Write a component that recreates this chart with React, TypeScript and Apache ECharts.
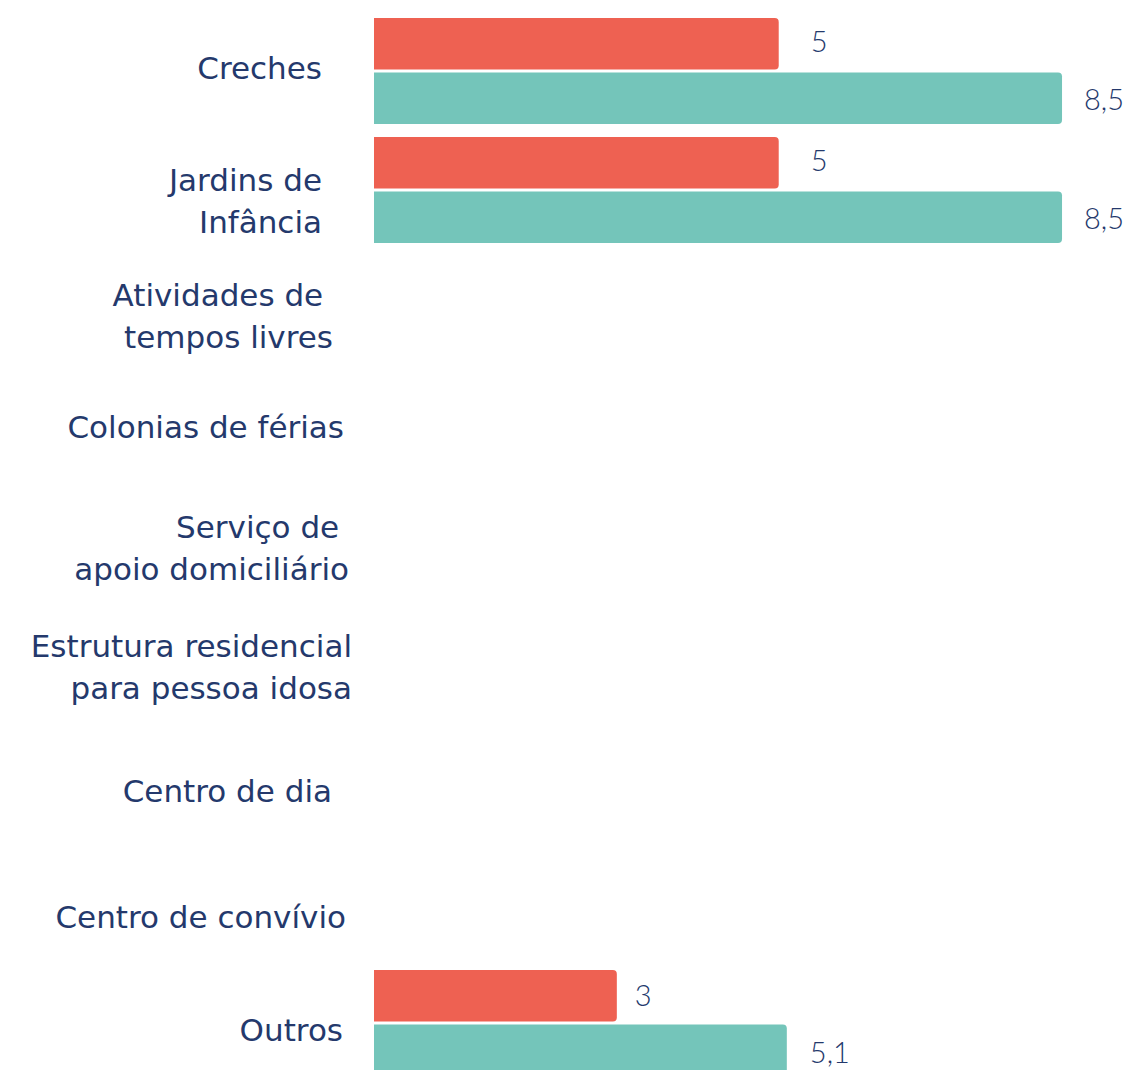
import React, { useEffect, useRef } from "react";
import * as echarts from "echarts";

const categories = [
  "Creches",
  "Jardins de\nInfância",
  "Atividades de\u00a0\ntempos livres",
  "Colonias de férias",
  "Serviço de\u00a0\napoio domiciliário",
  "Estrutura residencial\npara pessoa idosa",
  "Centro de dia",
  "Centro de convívio",
  "Outros",
];
const seriesA = [5, 5, null, null, null, null, null, null, 3];
const seriesB = [8.5, 8.5, null, null, null, null, null, null, 5.1];

// label layout tweaks (style only)
const labelRight = [30, 30, 19, 8, 3, 0, 20, 6, 9];
const labelDy = [-3, 11, 6.5, -1.3, 1, 1, 6.3, 12.8, 7.3];
const distA = [32, 32, 22, 22, 22, 22, 22, 22, 18];
const distB = [22, 22, 22, 22, 22, 22, 22, 22, 23];

const NAVY = "#24396C";
const FONT = "'DejaVu Sans', sans-serif";
const NUM_FONT = "Lato, sans-serif";

export default function App() {
  const ref = useRef<HTMLDivElement>(null);
  useEffect(() => {
    document.body.style.margin = "0";
    const chart = echarts.init(ref.current!, null, { renderer: "svg" });
    const fmt = (p: any) => String(p.value).replace(".", ",");
    const valueLabel = {
      show: true,
      position: "right",
      color: NAVY,
      fontSize: 29,
      fontFamily: NUM_FONT,
      fontWeight: 300,
      formatter: fmt,
    };
    chart.setOption({
      animation: false,
      grid: { left: 374, right: 34.5, top: 11.5, bottom: 0.5, containLabel: false },
      xAxis: { type: "value", min: 0, max: 9, show: false },
      yAxis: {
        type: "category",
        inverse: true,
        data: categories,
        axisLine: { show: false },
        axisTick: { show: false },
        splitLine: { show: false },
        axisLabel: { show: false },
      },
      series: [
        {
          type: "bar",
          data: seriesA.map((v, i) => ({
            value: v,
            label: { distance: distA[i], offset: [0, i === 8 ? -1 : -3] },
          })),
          barWidth: 51.5,
          barGap: "6%",
          itemStyle: { color: "#EE6152", borderRadius: [0, 4, 4, 0] },
          label: valueLabel,
        },
        {
          type: "bar",
          data: seriesB.map((v, i) => ({
            value: v,
            label: { distance: distB[i], offset: [0, i === 8 ? 1 : 0] },
          })),
          barWidth: 51.5,
          itemStyle: { color: "#74C5BA", borderRadius: [0, 4, 4, 0] },
          label: valueLabel,
        },
      ],
    });
    const x0 = chart.convertToPixel({ xAxisIndex: 0 }, 0) as number;
    chart.setOption({
      graphic: categories.map((c, i) => {
        const y = chart.convertToPixel({ yAxisIndex: 0 }, i) as number;
        return {
          type: "text",
          x: x0 - 22 - labelRight[i],
          y: y + labelDy[i],
          silent: true,
          style: {
            text: c,
            fill: NAVY,
            fontSize: 31,
            fontFamily: FONT,
            lineHeight: 42,
            align: "right",
            verticalAlign: "middle",
          },
        };
      }),
    });
    return () => chart.dispose();
  }, []);
  return (
    <div style={{ width: 1137, height: 1070, overflow: "hidden" }}>
      <div ref={ref} style={{ width: 1137, height: 1083 }} />
    </div>
  );
}
